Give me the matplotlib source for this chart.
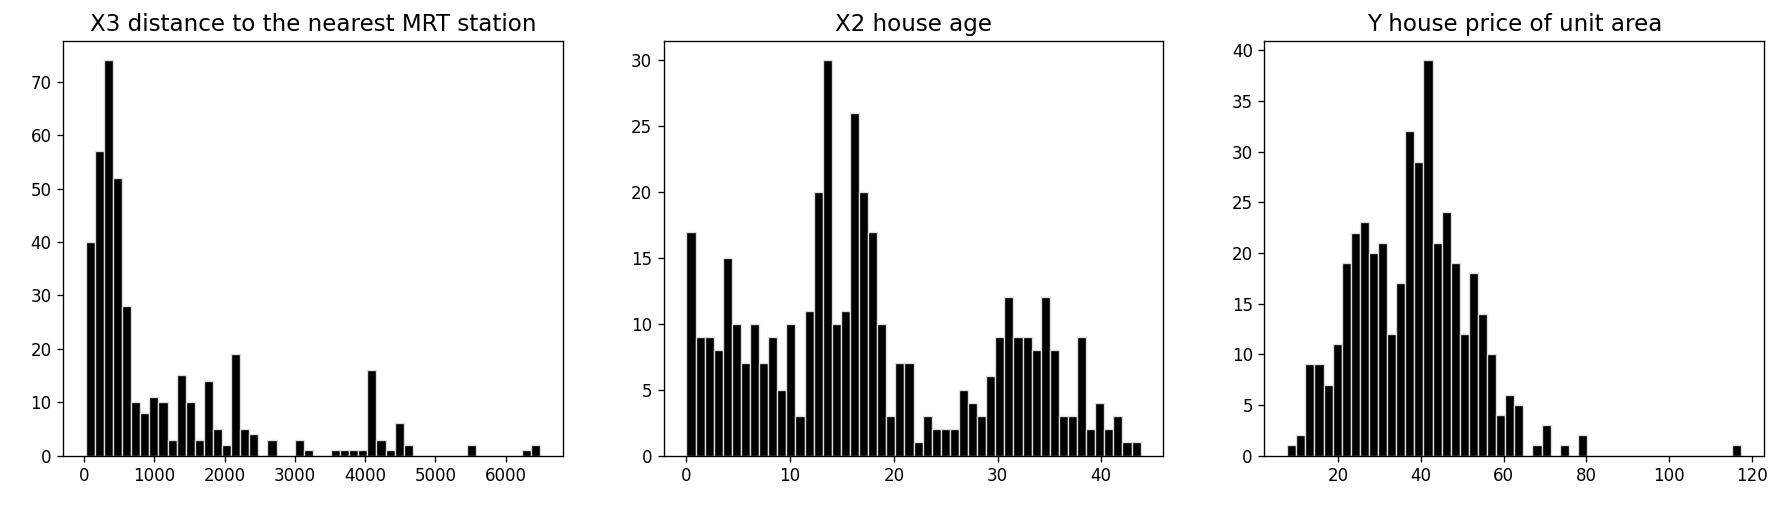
import numpy as np
from matplotlib import pyplot as plt

# bin counts (50 bins each)
x3_range = (23.38, 6488.02)
x3_counts = [40, 57, 74, 52, 28, 10, 8, 11, 10, 3,
             15, 10, 3, 14, 5, 2, 19, 5, 4, 0,
             3, 0, 0, 3, 1, 0, 0, 1, 1, 1,
             1, 16, 3, 1, 6, 2, 0, 0, 0, 0,
             0, 0, 2, 0, 0, 0, 0, 0, 1, 2]

x2_range = (0.0, 43.8)
x2_counts = [17, 9, 9, 8, 15, 10, 7, 10, 7, 9,
             5, 10, 3, 11, 20, 30, 10, 11, 26, 20,
             17, 10, 3, 7, 7, 1, 3, 2, 2, 2,
             5, 4, 3, 6, 9, 12, 9, 9, 8, 12,
             8, 3, 3, 9, 2, 4, 2, 3, 1, 1]

y_range = (7.6, 117.5)
y_counts = [1, 2, 9, 9, 7, 11, 19, 22, 23, 20,
            21, 12, 17, 32, 29, 39, 21, 24, 19, 12,
            18, 14, 10, 4, 6, 5, 0, 1, 3, 0,
            1, 0, 2, 0, 0, 0, 0, 0, 0, 0,
            0, 0, 0, 0, 0, 0, 0, 0, 0, 1]

titles = ['X3 distance to the nearest MRT station', 'X2 house age',
          'Y house price of unit area']


def main():
    fig, axes = plt.subplots(1, 3, figsize=(1792 / 120, 508 / 120), dpi=120)
    fig.subplots_adjust(left=0.0352, right=0.9844, bottom=0.1033, top=0.92,
                        wspace=0.2024)

    panels = [(x3_range, x3_counts), (x2_range, x2_counts), (y_range, y_counts)]
    for ax, (rng, counts), title in zip(axes, panels, titles):
        edges = np.linspace(rng[0], rng[1], len(counts) + 1)
        ax.hist(edges[:-1], bins=edges, weights=counts,
                color='black', edgecolor='#dddddd', linewidth=0.8)
        ax.set_title(title, fontsize=13.8)

    fig.savefig('out.png', dpi=120)


if __name__ == "__main__":
    main()
